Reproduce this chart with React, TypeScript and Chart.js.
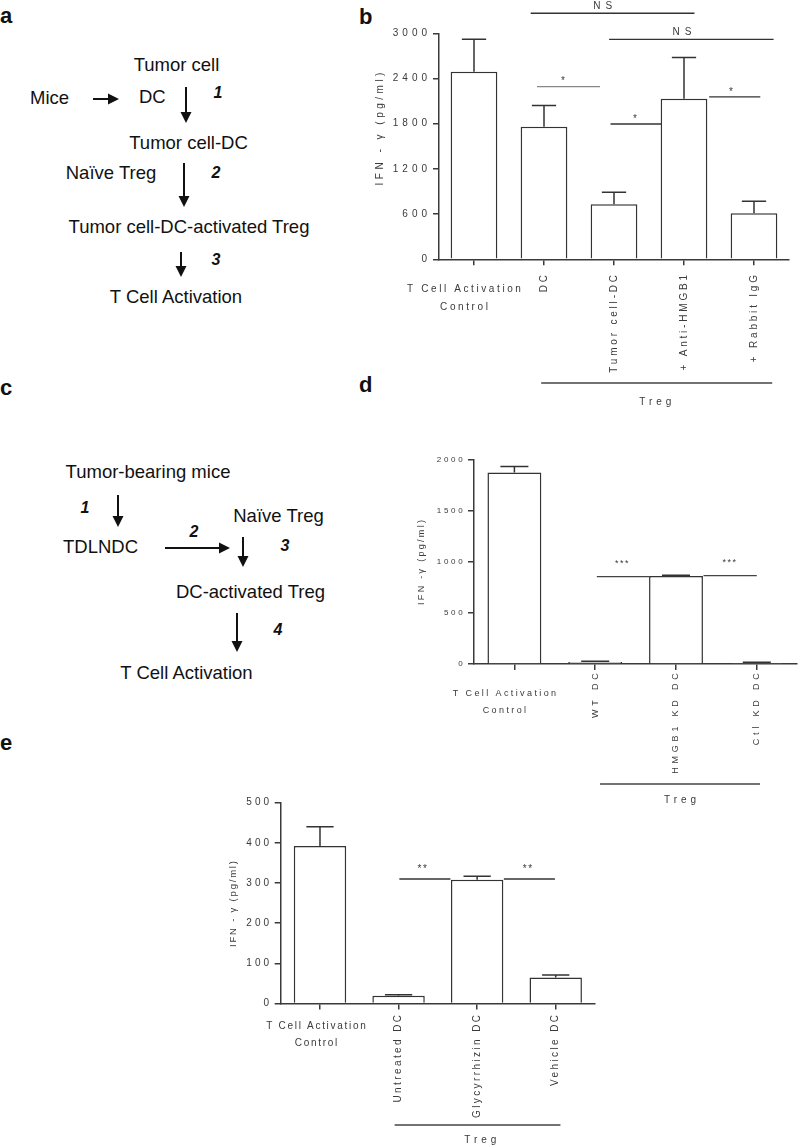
import React, { useEffect, useRef } from "react";
import { Chart, registerables } from "chart.js";

Chart.register(...registerables);

const FONT = "'Liberation Sans', Arial, Helvetica, sans-serif";
const BAR_EDGE = "#333333";
const AXIS = "#3a3a3a";
const TEXT = "#3a3a3a";
const INK = "#111111";

// ---------------- Panel b data ----------------
const bCategories: (string | string[])[] = [["T Cell Activation", "Control"], "DC", "Tumor cell-DC", "+ Anti-HMGB1", "+ Rabbit IgG"];
const bValues = [2490, 1760, 730, 2130, 610];
const bErrors = [430, 280, 160, 550, 160];
const bYTicks = [0, 600, 1200, 1800, 2400, 3000];
const bSignificance = [
  { from: 0.81, to: 3.15, y: 3266, text: "NS", at: 1.84 },
  { from: 1.93, to: 4.28, y: 2920, text: "NS", at: 2.97 },
  { from: 0.9, to: 1.8, y: 2291, text: "*", at: 1.27 },
  { from: 1.95, to: 2.68, y: 1796, text: "*", at: 2.3 },
  { from: 3.36, to: 4.09, y: 2155, text: "*", at: 3.67 },
];
const bGroup = { from: 0.96, to: 4.26, at: 2.59, text: "Treg" };
const bYTitle = "IFN - γ (pg/ml)";

// ---------------- Panel d data ----------------
const dCategories: (string | string[])[] = [["T Cell Activation", "Control"], "WT DC", "HMGB1 KD DC", "Ctl KD DC"];
const dValues = [1870, 20, 860, 10];
const dErrors = [60, 8, 8, 6];
const dYTicks = [0, 500, 1000, 1500, 2000];
const dSignificance = [
  { from: 1.02, to: 1.67, y: 853, text: "***", at: 1.33 },
  { from: 2.34, to: 3.0, y: 863, text: "***", at: 2.66 },
];
const dGroup = { from: 1.06, to: 3.04, at: 2.05, text: "Treg" };
const dYTitle = "IFN -γ (pg/ml)";

// ---------------- Panel e data ----------------
const eCategories: (string | string[])[] = [["T Cell Activation", "Control"], "Untreated DC", "Glycyrrhizin DC", "Vehicle DC"];
const eValues = [392, 19, 308, 65];
const eErrors = [48, 3, 9, 6];
const eYTicks = [0, 100, 200, 300, 400, 500];
const eSignificance = [
  { from: 1.01, to: 1.66, y: 310, text: "**", at: 1.3 },
  { from: 2.34, to: 2.99, y: 310, text: "**", at: 2.64 },
];
const eGroup = { from: 0.95, to: 3.06, at: 2.04, text: "Treg" };
const eYTitle = "IFN - γ (pg/ml)";

// ---------------- Layouts (positions / sizes / styles) ----------------
const bLayout = {
  left: 360, top: 0, width: 438, height: 420,
  padTop: 33.3, padRight: 9, yWidth: 79, xHeight: 160.7,
  tickSize: 10, tickSp: 4, tickPad: 2,
  titleX: 20, titleY: 129, titleSize: 10, titleSp: 3.5,
  labSize: 10, hSp: 2.6, vSp: 2.8, hOff: -10, line1: 30, line2: 48, rotOff: 15.7,
  grpLine: 123.7, grpText: 143, grpSize: 10, grpSp: 4,
  sigSize: 10, nsSp: 5, starLift: 5, nsLift: 7.3,
  sigColors: ["#333", "#333", "#888", "#333", "#333"],
};
const dLayout = {
  left: 400, top: 430, width: 398, height: 380,
  padTop: 29.3, padRight: 0.8, yWidth: 74, xHeight: 146,
  tickSize: 8, tickSp: 2.7, tickPad: 2.6,
  titleX: 21.7, titleY: 132.5, titleSize: 9, titleSp: 2.3,
  labSize: 9, hSp: 2.4, vSp: 3.8, hOff: -10, line1: 29.3, line2: 46.3, rotOff: 9.3,
  grpLine: 120, grpText: 136, grpSize: 10, grpSp: 4,
  sigSize: 9, nsSp: 3, starLift: 13, nsLift: 7,
  sigColors: ["#444", "#444"],
};
const eLayout = {
  left: 200, top: 780, width: 420, height: 367,
  padTop: 22.7, padRight: 25, yWidth: 80.7, xHeight: 143.5,
  tickSize: 10, tickSp: 3, tickPad: 2.7,
  titleX: 33.3, titleY: 124, titleSize: 9.5, titleSp: 1.8,
  labSize: 10, hSp: 1.7, vSp: 2.4, hOff: -4, line1: 22.5, line2: 39.8, rotOff: 11.5,
  grpLine: 121.5, grpText: 136.5, grpSize: 10, grpSp: 4,
  sigSize: 10, nsSp: 3, starLift: 10, nsLift: 7,
  sigColors: ["#333", "#333"],
};

function drawText(ctx: CanvasRenderingContext2D, s: string, x: number, y: number, size: number, sp: number,
  align: CanvasTextAlign = "center", rot = 0, color = TEXT) {
  ctx.save();
  ctx.font = `${size}px ${FONT}`;
  (ctx as any).letterSpacing = `${sp}px`;
  ctx.fillStyle = color;
  ctx.textAlign = align;
  ctx.textBaseline = "middle";
  ctx.translate(x, y);
  if (rot) ctx.rotate(rot);
  const comp = align === "center" ? sp / 2 : align === "right" ? sp : 0;
  ctx.fillText(s, comp, 0);
  ctx.restore();
}

type Spec = {
  categories: (string | string[])[];
  values: number[];
  errors: number[];
  yTicks: number[];
  sig: { from: number; to: number; y: number; text: string; at: number }[];
  group: { from: number; to: number; at: number; text: string };
  yTitle: string;
  L: typeof bLayout;
};

function BarPanel({ spec }: { spec: Spec }) {
  const ref = useRef<HTMLCanvasElement>(null);
  const { L } = spec;
  useEffect(() => {
    const decor = {
      id: "decor",
      beforeDraw(chart: any) {
        chart.ctx.letterSpacing = `${L.tickSp}px`;
      },
      afterDraw(chart: any) {
        const ctx: CanvasRenderingContext2D = chart.ctx;
        const xs = chart.scales.x;
        const ys = chart.scales.y;
        const ca = chart.chartArea;
        ctx.save();
        (ctx as any).letterSpacing = "0px";
        // error bars (upper)
        const meta = chart.getDatasetMeta(0);
        ctx.strokeStyle = BAR_EDGE;
        ctx.lineWidth = 1.5;
        meta.data.forEach((el: any, i: number) => {
          const top = ys.getPixelForValue(spec.values[i] + spec.errors[i]);
          const half = el.width * 0.26;
          ctx.beginPath();
          ctx.moveTo(el.x, el.y);
          ctx.lineTo(el.x, top);
          ctx.moveTo(el.x - half, top);
          ctx.lineTo(el.x + half, top);
          ctx.stroke();
        });
        // significance lines
        spec.sig.forEach((s, i) => {
          const py = ys.getPixelForValue(s.y);
          ctx.strokeStyle = L.sigColors[i] || "#333";
          ctx.lineWidth = 1.3;
          ctx.beginPath();
          ctx.moveTo(xs.getPixelForValue(s.from), py);
          ctx.lineTo(xs.getPixelForValue(s.to), py);
          ctx.stroke();
          const isStar = s.text.indexOf("*") >= 0;
          drawText(ctx, s.text, xs.getPixelForValue(s.at), py - (isStar ? L.starLift : L.nsLift),
            L.sigSize, isStar ? 1.5 : L.nsSp);
        });
        // x labels
        spec.categories.forEach((lab, i) => {
          const cx = xs.getPixelForValue(i);
          if (Array.isArray(lab)) {
            drawText(ctx, lab[0], cx + L.hOff, ca.bottom + L.line1, L.labSize, L.hSp);
            drawText(ctx, lab[1], cx + L.hOff, ca.bottom + L.line2, L.labSize, L.hSp);
          } else {
            drawText(ctx, lab, cx, ca.bottom + L.rotOff, L.labSize, L.vSp, "right", -Math.PI / 2);
          }
        });
        // group line
        const g = spec.group;
        ctx.strokeStyle = "#444";
        ctx.lineWidth = 1.3;
        ctx.beginPath();
        ctx.moveTo(xs.getPixelForValue(g.from), ca.bottom + L.grpLine);
        ctx.lineTo(xs.getPixelForValue(g.to), ca.bottom + L.grpLine);
        ctx.stroke();
        drawText(ctx, g.text, xs.getPixelForValue(g.at), ca.bottom + L.grpText, L.grpSize, L.grpSp);
        // y title
        drawText(ctx, spec.yTitle, L.titleX, L.titleY, L.titleSize, L.titleSp, "center", -Math.PI / 2);
        ctx.restore();
      },
    };
    const chart = new Chart(ref.current as HTMLCanvasElement, {
      type: "bar",
      data: {
        labels: spec.categories as any,
        datasets: [{
          data: spec.values,
          backgroundColor: "#ffffff",
          borderColor: BAR_EDGE,
          borderWidth: 1.5,
          barPercentage: 0.667,
          categoryPercentage: 1,
        }],
      },
      options: {
        animation: false,
        responsive: false,
        events: [],
        layout: { padding: { left: 0, right: L.padRight, top: L.padTop, bottom: 0 } },
        plugins: { legend: { display: false }, tooltip: { enabled: false } },
        scales: {
          x: {
            type: "category",
            grid: { offset: false, drawOnChartArea: false, drawTicks: true, tickLength: 6, color: AXIS, lineWidth: 1.5 },
            border: { color: AXIS, width: 1.5 },
            ticks: { display: false },
            afterFit: (s: any) => { s.height = L.xHeight; },
          },
          y: {
            min: 0,
            max: spec.yTicks[spec.yTicks.length - 1],
            grid: { drawOnChartArea: false, drawTicks: true, tickLength: 6, color: AXIS, lineWidth: 1.5 },
            border: { color: AXIS, width: 1.5 },
            ticks: {
              font: { size: L.tickSize, family: FONT }, color: TEXT, padding: L.tickPad, autoSkip: false,
              callback: (v: any) => String(v),
            },
            afterBuildTicks: (s: any) => { s.ticks = spec.yTicks.map((v) => ({ value: v })); },
            afterFit: (s: any) => { s.width = L.yWidth; },
          },
        },
      } as any,
      plugins: [decor],
    });
    return () => chart.destroy();
  }, []);
  return (
    <canvas ref={ref} width={L.width} height={L.height}
      style={{ position: "absolute", left: L.left, top: L.top, width: L.width, height: L.height }} />
  );
}

function T({ x, y, s, size = 18.5, bold = false, italic = false, align = "center" }:
  { x: number; y: number; s: string; size?: number; bold?: boolean; italic?: boolean; align?: string }) {
  return (
    <div style={{
      position: "absolute", left: x, top: y,
      transform: align === "center" ? "translate(-50%,-50%)" : "translate(0,-50%)",
      fontSize: size, fontWeight: bold ? 700 : 400, fontStyle: italic ? "italic" : "normal",
      whiteSpace: "nowrap", lineHeight: 1, fontFamily: FONT, color: INK,
    }}>{s}</div>
  );
}

const arrows = [
  [93, 99, 119, 99], [186, 87, 186, 123], [184, 163, 184, 207], [181, 252, 181, 277],
  [118, 495, 118, 527], [165, 548, 230, 548], [243, 537, 243, 567], [237, 613, 237, 652],
];

function Arrow({ a }: { a: number[] }) {
  const [x1, y1, x2, y2] = a;
  const len = Math.hypot(x2 - x1, y2 - y1);
  const ux = (x2 - x1) / len, uy = (y2 - y1) / len;
  const hl = 11, hw = 5.5;
  const bx = x2 - ux * hl, by = y2 - uy * hl;
  const pts = `${x2},${y2} ${bx - uy * hw},${by + ux * hw} ${bx + uy * hw},${by - ux * hw}`;
  return (
    <g>
      <line x1={x1} y1={y1} x2={bx + ux} y2={by + uy} stroke={INK} strokeWidth={2} />
      <polygon points={pts} fill={INK} />
    </g>
  );
}

export default function App() {
  return (
    <div style={{ position: "absolute", left: 0, top: 0, width: 798, height: 1147, background: "#fff", overflow: "hidden", fontFamily: FONT }}>
      {/* panel letters */}
      <T x={0} y={16} s="a" size={22} bold align="left" />
      <T x={359} y={17} s="b" size={22} bold align="left" />
      <T x={0} y={388} s="c" size={22} bold align="left" />
      <T x={359} y={385} s="d" size={22} bold align="left" />
      <T x={0} y={743} s="e" size={22} bold align="left" />

      {/* panel a diagram */}
      <T x={176.5} y={65} s="Tumor cell" />
      <T x={30} y={98} s="Mice" align="left" />
      <T x={139} y={97} s="DC" align="left" />
      <T x={218} y={93} s="1" size={16} bold italic />
      <T x={188.5} y={143} s="Tumor cell-DC" />
      <T x={111} y={173} s="Naïve Treg" />
      <T x={216} y={173} s="2" size={16} bold italic />
      <T x={189} y={227} s="Tumor cell-DC-activated Treg" />
      <T x={216} y={260} s="3" size={16} bold italic />
      <T x={176} y={297} s="T Cell Activation" />

      {/* panel c diagram */}
      <T x={148} y={472} s="Tumor-bearing mice" />
      <T x={85} y={508} s="1" size={16} bold italic />
      <T x={63} y={547} s="TDLNDC" align="left" />
      <T x={194} y={532} s="2" size={16} bold italic />
      <T x={278.5} y={516} s="Naïve Treg" />
      <T x={285} y={546} s="3" size={16} bold italic />
      <T x={250.5} y={592} s="DC-activated Treg" />
      <T x={278} y={630} s="4" size={16} bold italic />
      <T x={186.5} y={673} s="T Cell Activation" />

      <svg width={360} height={700} style={{ position: "absolute", left: 0, top: 0 }}>
        {arrows.map((a, i) => <Arrow key={i} a={a} />)}
      </svg>

      <BarPanel spec={{ categories: bCategories, values: bValues, errors: bErrors, yTicks: bYTicks, sig: bSignificance, group: bGroup, yTitle: bYTitle, L: bLayout }} />
      <BarPanel spec={{ categories: dCategories, values: dValues, errors: dErrors, yTicks: dYTicks, sig: dSignificance, group: dGroup, yTitle: dYTitle, L: dLayout as any }} />
      <BarPanel spec={{ categories: eCategories, values: eValues, errors: eErrors, yTicks: eYTicks, sig: eSignificance, group: eGroup, yTitle: eYTitle, L: eLayout as any }} />
    </div>
  );
}
